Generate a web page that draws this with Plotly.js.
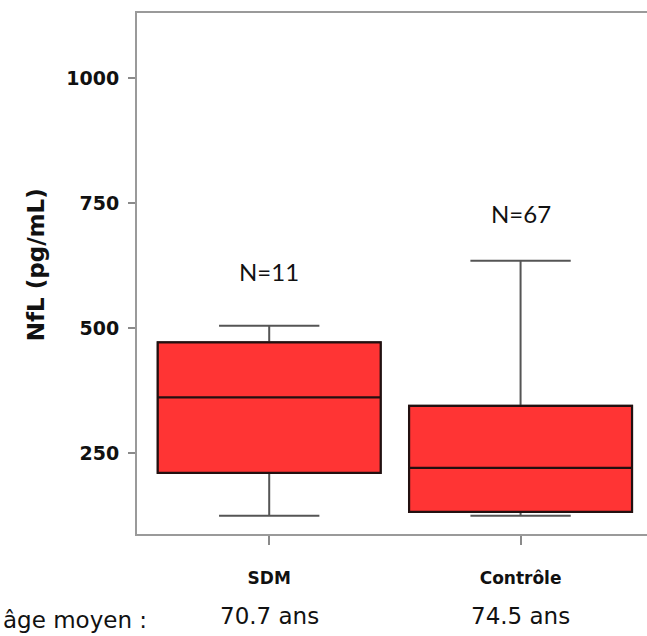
<!DOCTYPE html>
<html>
<head>
<meta charset="utf-8">
<script src="https://cdn.plot.ly/plotly-3.0.1.min.js"></script>
<style>
  html, body { margin: 0; padding: 0; background: #ffffff; }
  #chart { width: 647px; height: 636px; }
</style>
</head>
<body>
<div id="chart"></div>
<script>
// NfL concentration (pg/mL) per group: box summary statistics
const groups      = ["SDM", "Contrôle"];
const lowerFence  = [125, 125];
const q1Values    = [211, 133];
const medians     = [362, 221];
const q3Values    = [472, 345];
const upperFence  = [505, 635];
const sampleSizes = [11, 67];
const meanAges    = [70.7, 74.5];
const countLabelY = [613, 729];

const redFill = "#ff3434";

// Whiskers and caps (grey), full range
const whiskerTrace = {
  type: "box",
  x: groups,
  lowerfence: lowerFence,
  q1: q1Values,
  median: medians,
  q3: q3Values,
  upperfence: upperFence,
  width: 0.887,
  whiskerwidth: 0.45,
  fillcolor: redFill,
  line: { color: "#555555", width: 2 },
  boxpoints: false,
  hoverinfo: "skip",
  showlegend: false
};

// Box body drawn on top with a dark outline and median
const bodyTrace = {
  type: "box",
  x: groups,
  lowerfence: q1Values,
  q1: q1Values,
  median: medians,
  q3: q3Values,
  upperfence: q3Values,
  width: 0.887,
  whiskerwidth: 0,
  fillcolor: redFill,
  line: { color: "#221010", width: 2.2 },
  boxpoints: false,
  showlegend: false
};

const annotations = [];

// Group sizes above each box, mean ages below the axis
groups.forEach((g, i) => {
  annotations.push({
    x: g, xref: "x", y: countLabelY[i], yref: "y",
    text: "N=" + sampleSizes[i], showarrow: false,
    xanchor: "center", yanchor: "middle",
    font: { family: "Lato, sans-serif", size: 24, color: "#111111" }
  });
  annotations.push({
    x: g, xref: "x", y: -0.158, yref: "paper",
    text: meanAges[i].toFixed(1) + " ans", showarrow: false,
    xanchor: "center", yanchor: "middle",
    font: { family: "DejaVu Sans, sans-serif", size: 23, color: "#111111" }
  });
});

annotations.push({
  x: -0.122, xref: "paper", y: -0.165, yref: "paper",
  text: "âge moyen :", showarrow: false,
  xanchor: "center", yanchor: "middle",
  font: { family: "DejaVu Sans, sans-serif", size: 23, color: "#111111" }
});

// Y-axis title
annotations.push({
  x: -0.198, xref: "paper", y: 0.516, yref: "paper",
  text: "<b>NfL (pg/mL)</b>", showarrow: false, textangle: -90,
  xanchor: "center", yanchor: "middle",
  font: { family: "DejaVu Sans, sans-serif", size: 23, color: "#111111" }
});

const layout = {
  width: 647,
  height: 636,
  margin: { l: 137, r: 0, t: 13, b: 102 },
  paper_bgcolor: "#ffffff",
  plot_bgcolor: "#ffffff",
  boxmode: "overlay",
  showlegend: false,
  xaxis: {
    type: "category",
    range: [-0.526, 1.503],
    showline: true,
    mirror: true,
    linecolor: "#9a9a9a",
    linewidth: 2,
    ticks: "outside",
    ticklen: 9,
    tickwidth: 2,
    tickcolor: "#8a8a8a",
    showgrid: false,
    zeroline: false,
    ticklabelstandoff: 19,
    tickfont: { family: "DejaVu Sans, sans-serif", size: 17, color: "#111111", weight: "bold" }
  },
  yaxis: {
    range: [88.6, 1130.6],
    tickvals: [250, 500, 750, 1000],
    showline: true,
    linecolor: "#9a9a9a",
    linewidth: 2,
    ticks: "outside",
    ticklen: 7,
    tickwidth: 2,
    tickcolor: "#8a8a8a",
    showgrid: false,
    zeroline: false,
    ticklabelstandoff: 5,
    tickfont: { family: "DejaVu Sans, sans-serif", size: 19, color: "#111111", weight: "bold" }
  },
  annotations: annotations
};

Plotly.newPlot("chart", [whiskerTrace, bodyTrace], layout, { staticPlot: true, displayModeBar: false });
</script>
</body>
</html>
